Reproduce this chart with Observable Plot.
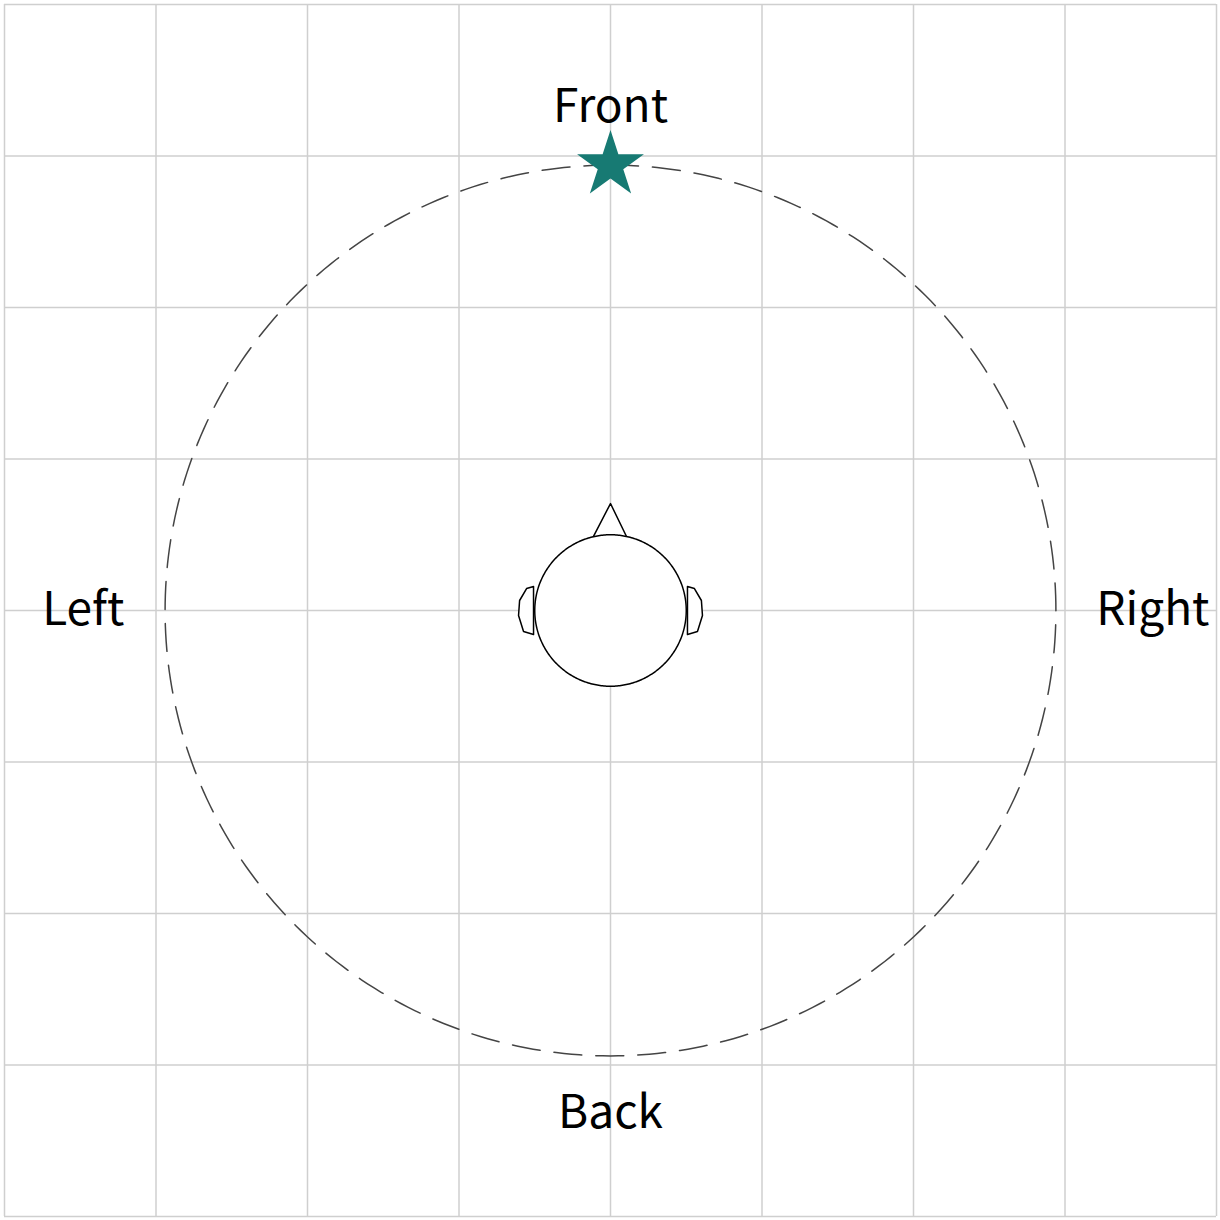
<!DOCTYPE html>
<html><head>
<script src="https://cdn.jsdelivr.net/npm/d3@7"></script>
<script src="https://cdn.jsdelivr.net/npm/@observablehq/plot@0.6"></script>
<style>body{margin:0;background:#fff}</style>
</head><body><div id="c"></div>
<script>
const gridTicks = [-4,-3,-2,-1,0,1,2,3,4];
const ringRadius = 2.94;
const headRadius = 0.5;
const nose = [[-0.12,0.475],[0,0.706],[0.112,0.475]];
const leftEar = [[-0.508,0.158],[-0.554,0.145],[-0.600,0.066],[-0.607,-0.033],[-0.574,-0.139],[-0.508,-0.158],[-0.508,0.158]];
const rightEar = leftEar.map(([x,y])=>[-x,y]);
const labels = [{t:"Front",x:0,y:3.32},{t:"Back",x:0,y:-3.32},{t:"Left",x:-3.48,y:0},{t:"Right",x:3.58,y:0}];
const source = [{x:0,y:ringRadius}];
const circ = r => d3.range(0,361,1).map(a=>[r*Math.sin(a*Math.PI/180), r*Math.cos(a*Math.PI/180)]);
const font = "'Noto Sans CJK JP','Noto Sans',sans-serif";
const chart = Plot.plot({
  width:1220,height:1220,margin:4,
  x:{domain:[-4,4],axis:null},y:{domain:[-4,4],axis:null},
  style:{fontFamily:font},
  marks:[
    Plot.ruleX(gridTicks,{stroke:"#cfcfcf",strokeWidth:1.5}),
    Plot.ruleY(gridTicks,{stroke:"#cfcfcf",strokeWidth:1.5}),
    Plot.line(circ(ringRadius),{stroke:"#444",strokeWidth:1.5,strokeDasharray:"28,14"}),
    Plot.line(nose,{stroke:"#000",strokeWidth:1.5,fill:"white"}),
    Plot.line(leftEar,{stroke:"#000",strokeWidth:1.5,fill:"white"}),
    Plot.line(rightEar,{stroke:"#000",strokeWidth:1.5,fill:"white"}),
    Plot.line(circ(headRadius),{stroke:"#000",strokeWidth:1.5,fill:"white"}),
    Plot.dot(source,{x:"x",y:"y",symbol:"star",r:21,fill:"#177a73",stroke:"none"}),
    Plot.text(labels,{x:"x",y:"y",text:"t",fontSize:46,fill:"#000"})
  ]
});
document.getElementById("c").append(chart);
</script></body></html>
